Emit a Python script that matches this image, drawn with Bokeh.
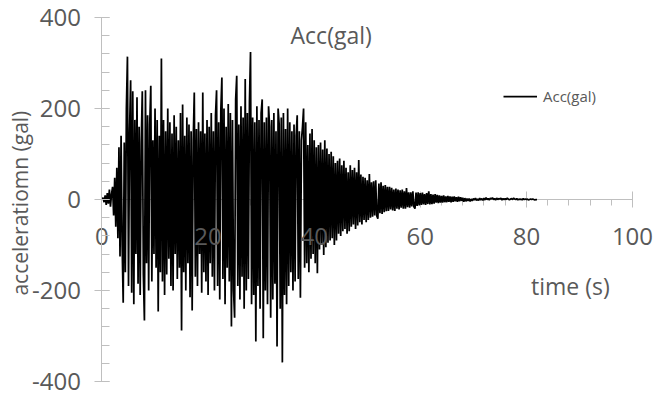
import math
from bokeh.plotting import figure
from bokeh.models import Range1d, FixedTicker, Label, Legend, LegendItem, LinearAxis
from bokeh.embed import file_html
from bokeh.resources import INLINE

# ---- data (0.2 s sampling) ----
dt = 0.2
acc_gal = [
    0, 4, -6, 9, -12,
    14, -9, 22, -16, 12,
    28, -35, 48, -60, 70,
    -85, 115, -125, 140, -100,
    -227, 125, -160, 200, 314,
    -190, 150, 262, -205, 238,
    -230, 175, -120, 225, -185,
    160, -210, 125, 238, -165,
    -266, 240, -140, 185, -200,
    165, 250, -180, 130, -120,
    200, -150, 175, -246, 140,
    -160, 310, -180, 175, -210,
    150, -165, 200, -130, 170,
    -190, 145, -200, 185, -120,
    160, -175, 130, -150, 190,
    -288, 209, -160, 140, -200,
    180, -140, 165, -215, 150,
    -244, 130, 235, -170, 155,
    -190, 170, -120, 150, -205,
    235, -160, 145, -180, 175,
    -210, 160, -140, 190, -170,
    150, -200, 185, 240, -190,
    170, -220, 195, 268, -175,
    200, -230, 160, -150, 210,
    -180, 190, -279, 175, -200,
    -260, 220, 272, -190, 165,
    -220, 205, -170, 180, -240,
    265, -200, 190, -175, 215,
    324, -230, 180, -210, 170,
    -312, 205, -190, 175, -240,
    190, 220, -305, 170, -200,
    180, -230, 205, 160, -260,
    175, -220, 190, -185, 150,
    -323, 200, 165, -240, 180,
    -358, 190, -210, 155, -230,
    200, -190, 170, -160, 150,
    -200, 165, -180, 140, 185,
    -175, 150, -216, 130, 160,
    200, -150, 170, -140, 120,
    -160, 145, -130, 155, -120,
    130, -140, 115, -162, 120,
    -110, 125, -100, 110, -122,
    130, -105, 112, -95, 100,
    -90, 105, -85, 95, -100,
    80, -90, 85, -75, 90,
    -80, 75, -70, 85, -65,
    70, -75, 60, -70, 75,
    -60, 65, -55, 70, -65,
    60, -57, 87, -50, 55,
    -55, 50, -45, 48, -50,
    42, -45, 56, -40, 38,
    -38, 40, -35, 42, -36,
    -42, 35, -30, 38, -32,
    30, -28, 32, -26, 28,
    -25, 28, -22, 26, -24,
    22, -25, 24, -20, 22,
    -22, 20, -18, 22, -20,
    18, -20, 25, -17, 16,
    -18, 16, -15, 18, -16,
    -20, 15, -14, 16, -13,
    14, -12, 15, -11, 12,
    -12, 14, -10, 18, -11,
    12, -10, 11, -9, 12,
    -7, 10, -8, 9, -7,
    8, -7, 9, -6, 7,
    -6, 8, -5, 7, -6,
    6, -5, 7, -4, 5,
    -5, 6, -4, 5, -3,
    4, -5, 3, -4, 2,
    -3, 2, -4, 1, -3,
    2, -1, 3, -2, 1,
    -2, 3, -1, 2, -2,
    3, -1, 4, 0, 2,
    -1, 3, 1, 4, 0,
    2, -1, 3, 0, 2,
    1, 3, -1, 2, 0,
    2, 0, 3, 1, -1,
    1, 2, 0, 3, 1,
    0, 2, -1, 1, 0,
    1, -1, 2, 0, 1,
    0, 1, -1, 0, 1,
    0, 1, 0, -1, 0,
    0,
]
time_s = [round(i * dt, 1) for i in range(len(acc_gal))]

x_major_ticks = [0, 20, 40, 60, 80, 100]
x_minor_ticks = [4 * i for i in range(26)]
y_major_ticks = [-400, -200, 0, 200, 400]
y_minor_ticks = [-400 + 40 * i for i in range(21)]
y_tick_labels = {-400: "-400", -200: "-200", 0: "0", 200: "200", 400: "400"}

series_name = "Acc(gal)"
chart_title = "Acc(gal)"
x_title = "time (s)"
y_title = "acceleratiomn (gal)"

FONT = "Open Sans"
TXT = "#595959"
AXC = "#bfbfbf"

p = figure(width=654, height=398, output_backend="svg", toolbar_location=None,
           x_range=Range1d(-19.13, 104.15), y_range=Range1d(-437.4, 437.4),
           min_border=0)
p.grid.visible = False
p.outline_line_color = None
p.background_fill_color = "white"
p.border_fill_color = "white"

r = p.line(time_s, acc_gal, line_color="black", line_width=1.75)

# x axis line + ticks: drawn beneath the series (as in the original)
xa = p.xaxis[0]
xa.level = "underlay"
xa.fixed_location = 0
xa.bounds = (0, 100)
xa.ticker = FixedTicker(ticks=x_major_ticks, minor_ticks=x_minor_ticks)
xa.axis_line_color = AXC
xa.major_tick_line_color = AXC
xa.minor_tick_line_color = AXC
xa.major_tick_in = 8
xa.major_tick_out = 8
xa.minor_tick_in = 0
xa.minor_tick_out = 6
xa.major_label_text_color = None

# x tick labels: drawn on top of the series
xl = LinearAxis(fixed_location=0, bounds=(0, 100),
                ticker=FixedTicker(ticks=x_major_ticks),
                axis_line_color=None, major_tick_line_color=None,
                minor_tick_line_color=None, major_tick_in=8, major_tick_out=8,
                major_label_standoff=20, major_label_text_font=FONT,
                major_label_text_font_size="24px", major_label_text_color=TXT)
p.add_layout(xl, "below")

ya = p.yaxis[0]
ya.fixed_location = 0
ya.bounds = (-400, 400)
ya.ticker = FixedTicker(ticks=y_major_ticks, minor_ticks=y_minor_ticks)
ya.major_label_overrides = y_tick_labels
ya.axis_line_color = AXC
ya.major_tick_line_color = AXC
ya.minor_tick_line_color = AXC
ya.major_tick_in = 8
ya.major_tick_out = 7
ya.minor_tick_in = 8
ya.minor_tick_out = 0
ya.major_label_standoff = 14
ya.major_label_text_font = FONT
ya.major_label_text_font_size = "24px"
ya.major_label_text_color = TXT

p.add_layout(Label(x=43.2, y=362, text=chart_title, text_align="center",
                   text_baseline="alphabetic", text_font=FONT,
                   text_font_size="23px", text_color=TXT))
p.add_layout(Label(x=88.3, y=-191, text=x_title, text_align="center",
                   text_baseline="alphabetic", text_font=FONT,
                   text_font_size="23px", text_color=TXT))
p.add_layout(Label(x=-15.46, y=-8, text=y_title, angle=math.pi / 2,
                   text_align="center", text_baseline="middle", text_font=FONT,
                   text_font_size="21px", text_color=TXT))

legend = Legend(items=[LegendItem(label=series_name, renderers=[r])],
                location=(503, 292), glyph_width=34, glyph_height=20,
                label_standoff=6, padding=0, margin=0, spacing=0,
                border_line_color=None, background_fill_alpha=0,
                label_text_font=FONT, label_text_font_size="15px",
                label_text_color=TXT)
p.add_layout(legend)

open("out.html", "w").write(file_html(p, INLINE))
